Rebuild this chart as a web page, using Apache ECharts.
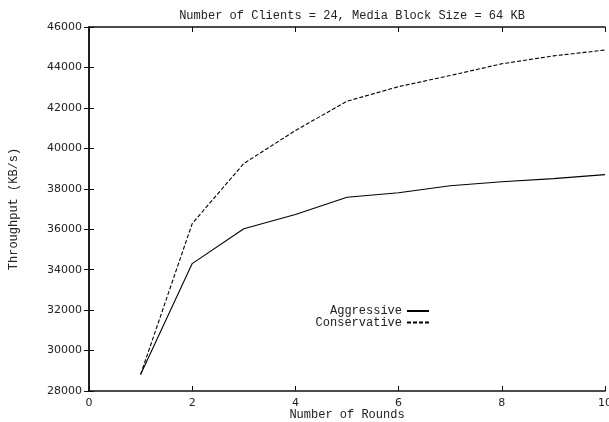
<!DOCTYPE html>
<html>
<head>
<meta charset="utf-8">
<script src="https://cdn.jsdelivr.net/npm/echarts@6/dist/echarts.min.js"></script>
<style>html,body{margin:0;padding:0;background:#fff;}#c{width:609px;height:422px;}</style>
</head>
<body>
<div id="c"></div>
<script>
const rounds = [1, 2, 3, 4, 5, 6, 7, 8, 9, 10];
const aggressive = [28820, 34300, 36020, 36730, 37580, 37800, 38150, 38350, 38500, 38700];
const conservative = [28820, 36280, 39250, 40880, 42330, 43050, 43600, 44180, 44570, 44860];
const titleText = 'Number of Clients = 24, Media Block Size = 64 KB';
const xName = 'Number of Rounds';
const yName = 'Throughput (KB/s)';

const mono = 'Liberation Mono';
const sans = 'DejaVu Sans';
const ink = '#222';

const chart = echarts.init(document.getElementById('c'), null, {renderer: 'canvas'});
const axisLine = {show: true, lineStyle: {color: '#111', width: 1.5}};
const axisTick = {show: true, inside: true, length: 5, lineStyle: {color: '#111', width: 1}};
const legendCommon = {
  orient: 'vertical', align: 'right', right: 179,
  itemWidth: 22, itemHeight: 10, itemGap: 0, padding: 0,
  itemStyle: {color: 'transparent', borderColor: 'transparent', borderWidth: 0},
  textStyle: {fontFamily: mono, fontSize: 12, color: ink}
};

chart.setOption({
  animation: false,
  backgroundColor: '#fff',
  title: {
    text: titleText,
    left: 347, top: 5, textAlign: 'center',
    textStyle: {fontFamily: mono, fontSize: 12, fontWeight: 'normal', color: ink}
  },
  legend: [
    Object.assign({data: ['Aggressive'], top: 305}, legendCommon),
    Object.assign({data: ['Conservative'], top: 316.5}, legendCommon)
  ],
  grid: {left: 89, right: 4, top: 27, bottom: 31, containLabel: false, outerBoundsMode: 'none', show: false},
  xAxis: [
    {
      type: 'value', min: 0, max: 10, interval: 2, position: 'bottom',
      name: xName, nameLocation: 'middle', nameGap: 18, nameMoveOverlap: false,
      nameTextStyle: {fontFamily: mono, fontSize: 12, color: ink},
      axisLine, axisTick,
      axisLabel: {fontFamily: sans, fontSize: 11, color: ink, margin: 7, formatter: v => String(v)},
      splitLine: {show: false}
    },
    {
      type: 'value', min: 0, max: 10, interval: 2, position: 'top',
      axisLine, axisTick, axisLabel: {show: false}, splitLine: {show: false}
    }
  ],
  yAxis: [
    {
      type: 'value', min: 28000, max: 46000, interval: 2000, position: 'left',
      name: yName, nameLocation: 'middle', nameGap: 69, nameRotate: 90, nameMoveOverlap: false,
      nameTextStyle: {fontFamily: mono, fontSize: 12, color: ink},
      axisLine, axisTick,
      axisLabel: {fontFamily: sans, fontSize: 11, color: ink, margin: 7, formatter: v => String(v)},
      splitLine: {show: false}
    },
    {
      type: 'value', min: 28000, max: 46000, interval: 2000, position: 'right',
      axisLine, axisTick, axisLabel: {show: false}, splitLine: {show: false}
    }
  ],
  series: [
    {
      name: 'Aggressive', type: 'line', symbol: 'none',
      data: rounds.map((r, i) => [r, aggressive[i]]),
      lineStyle: {color: '#000', width: 1.1, type: 'solid'},
      itemStyle: {color: '#000'}
    },
    {
      name: 'Conservative', type: 'line', symbol: 'none',
      data: rounds.map((r, i) => [r, conservative[i]]),
      lineStyle: {color: '#000', width: 1.1, type: [4, 2]},
      itemStyle: {color: '#000'}
    }
  ]
});
</script>
</body>
</html>
